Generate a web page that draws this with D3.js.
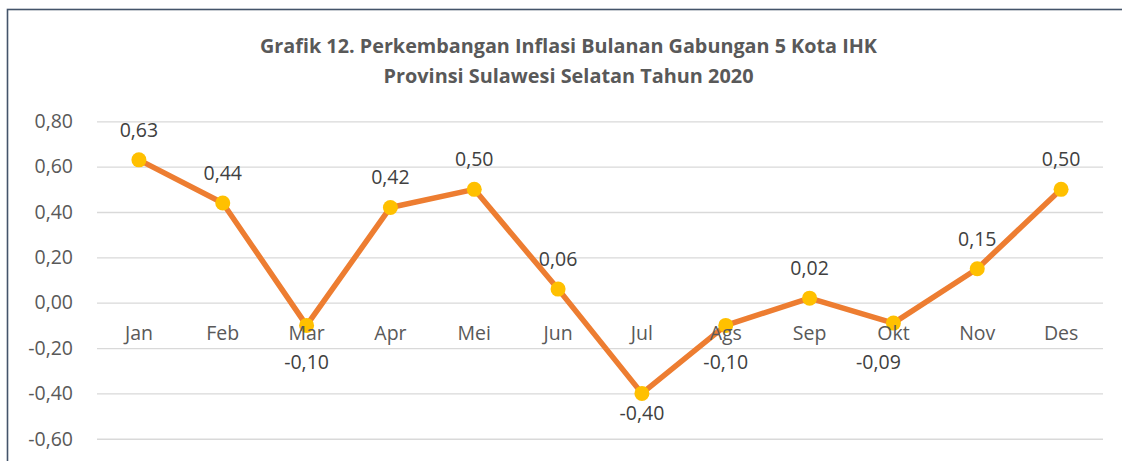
<!DOCTYPE html>
<html>
<head>
<meta charset="utf-8">
<script src="https://cdn.jsdelivr.net/npm/d3@7"></script>
<style>
  body { margin: 0; background: #fff; }
  svg { display: block; }
  .tick line { stroke: #d9d9d9; stroke-width: 1.3; }
  .tick text { fill: #595959; font-family: "Open Sans", sans-serif; font-size: 19.5px; }
</style>
</head>
<body>
<script>
// data
const months = ['Jan', 'Feb', 'Mar', 'Apr', 'Mei', 'Jun', 'Jul', 'Ags', 'Sep', 'Okt', 'Nov', 'Des'];
const inflasi = [0.63, 0.44, -0.10, 0.42, 0.50, 0.06, -0.40, -0.10, 0.02, -0.09, 0.15, 0.50];
const yTicks = [-0.6, -0.4, -0.2, 0, 0.2, 0.4, 0.6, 0.8];
const titleLines = ['Grafik 12. Perkembangan Inflasi Bulanan Gabungan 5 Kota IHK',
                    'Provinsi Sulawesi Selatan Tahun 2020'];

const w = 1122;
const h = 461;
const svg = d3.select('body')
              .append('svg')
              .attr('width', w)
              .attr('height', h);

// chart frame (bottom and right fall outside the picture)
svg.append('rect')
   .attr('x', 7.5)
   .attr('y', 9.5)
   .attr('width', 1130)
   .attr('height', 500)
   .attr('fill', 'none')
   .attr('stroke', '#44546a')
   .attr('stroke-width', 1.6);

const idFmt = d3.formatLocale({decimal: ',', thousands: '.', grouping: [3], currency: ['Rp', ''], minus: '-'});
const fmt = idFmt.format('.2f');

const xScale = d3.scaleBand()
                 .domain(months)
                 .range([97, 1103]);

const yScale = d3.scaleLinear()
                 .domain([-0.8, 0.8])
                 .range([484.1, 121.3]);

// title
svg.selectAll('.title')
   .data(titleLines)
   .enter()
   .append('text')
   .attr('class', 'title')
   .attr('x', 568.5)
   .attr('y', (d, i) => 53 + i * 30)
   .attr('text-anchor', 'middle')
   .attr('textLength', (d, i) => i === 0 ? 617 : 370)
   .attr('lengthAdjust', 'spacingAndGlyphs')
   .style('font-family', '"Open Sans", sans-serif')
   .style('font-weight', 'bold')
   .style('font-size', '20px')
   .style('fill', '#595959')
   .text(d => d);

// y axis with gridlines
const yAxis = d3.axisLeft(yScale)
                .tickValues(yTicks)
                .tickSize(-(1103 - 97))
                .tickPadding(24)
                .tickFormat(fmt);

svg.append('g')
   .attr('id', 'y-axis')
   .attr('transform', 'translate(97,0)')
   .call(yAxis)
   .call(g => g.select('.domain').remove());

// line
const line = d3.line()
               .x((d, i) => xScale(months[i]) + xScale.bandwidth() / 2)
               .y(d => yScale(d));

svg.append('path')
   .datum(inflasi)
   .attr('d', line)
   .attr('fill', 'none')
   .attr('stroke', '#ed7d31')
   .attr('stroke-width', 5.5)
   .attr('stroke-linejoin', 'round');

svg.selectAll('.dot')
   .data(inflasi)
   .enter()
   .append('circle')
   .attr('class', 'dot')
   .attr('cx', (d, i) => xScale(months[i]) + xScale.bandwidth() / 2)
   .attr('cy', d => yScale(d))
   .attr('r', 7.5)
   .attr('fill', '#ffc000');

// category labels, sitting just under the zero line
svg.selectAll('.cat')
   .data(months)
   .enter()
   .append('text')
   .attr('class', 'cat')
   .attr('x', d => xScale(d) + xScale.bandwidth() / 2)
   .attr('y', yScale(0) + 37)
   .attr('text-anchor', 'middle')
   .style('font-family', '"Open Sans", sans-serif')
   .style('font-size', '19.5px')
   .style('fill', '#595959')
   .text(d => d);

// data labels: above for positive, below for negative (pushed clear of the month names)
const labelY = d => {
  const py = yScale(d);
  if (d >= 0) return py - 23;
  return Math.max(py + 27, yScale(0) + 66);
};

svg.selectAll('.lbl')
   .data(inflasi)
   .enter()
   .append('text')
   .attr('class', 'lbl')
   .attr('x', (d, i) => xScale(months[i]) + xScale.bandwidth() / 2 - (months[i] === 'Okt' ? 15 : 0))
   .attr('y', d => labelY(d))
   .attr('text-anchor', 'middle')
   .style('font-family', '"Open Sans", sans-serif')
   .style('font-size', '19.5px')
   .style('fill', '#404040')
   .text(d => fmt(d));
</script>
</body>
</html>
